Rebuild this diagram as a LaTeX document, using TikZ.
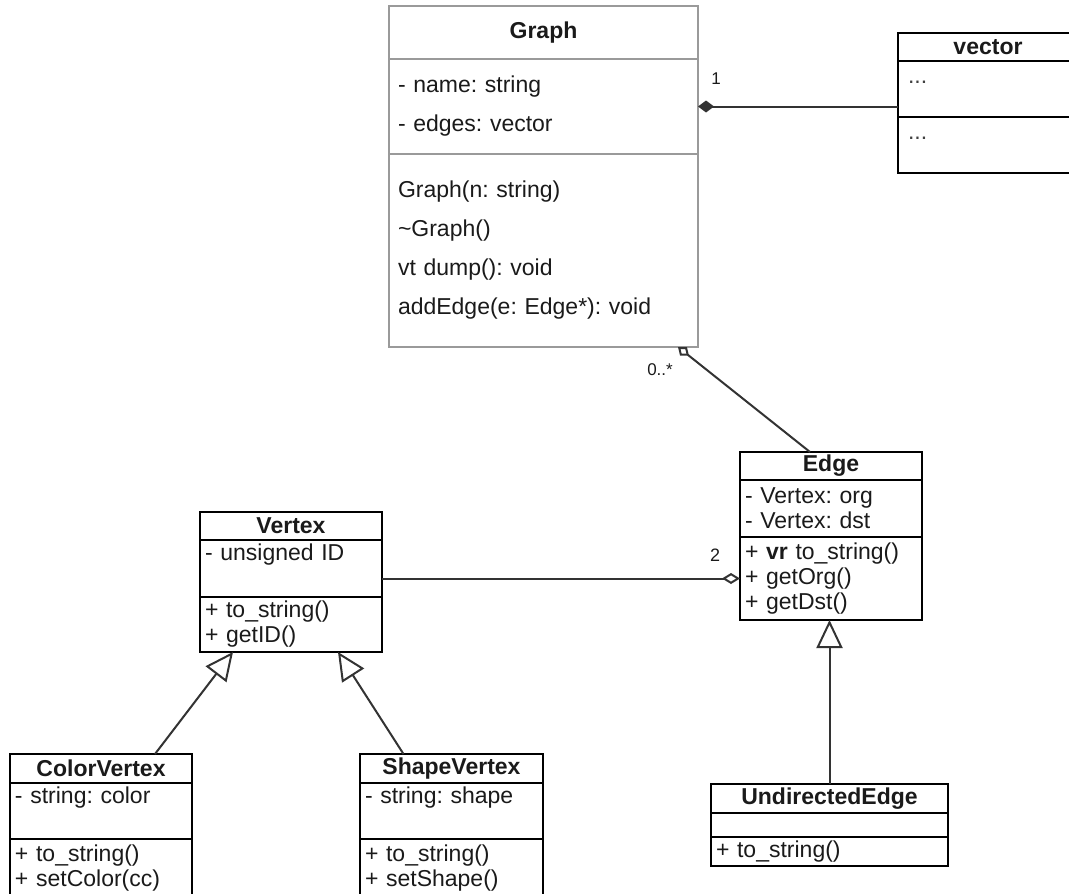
\documentclass[tikz,border=0pt]{standalone}
\usepackage{fontspec}
\setmainfont{Liberation Sans}
\usetikzlibrary{arrows.meta, positioning}
\frenchspacing
\definecolor{uml_gray}{HTML}{9A9A9A}
\definecolor{uml_line}{HTML}{333333}
\definecolor{uml_text}{HTML}{1A1A1A}
\tikzset{
    classbox/.style={rectangle, draw=black, line width=1.8pt, outer sep=0pt, inner ysep=0pt, inner xsep=5pt, text=uml_text, font=\fontsize{23}{25}\selectfont},
    classtitle/.style={classbox, align=center, font=\fontsize{23}{25}\selectfont\bfseries},
    classpart/.style={classbox, align=left},
    assoc/.style={draw=uml_line, line width=2pt},
    inherit/.style={assoc, -{Triangle[open, length=28pt, width=26pt]}},
    aggregation/.style={assoc, -{Diamond[open, length=18pt, width=11pt]}},
    composition/.style={assoc, {Diamond[length=16pt, width=12pt]}-},
    mult/.style={inner sep=0pt, text=uml_text, font=\fontsize{17}{17}\selectfont}
}

\begin{document}
\begin{tikzpicture}[x=1pt, y=-1pt]
    \useasboundingbox (0,0) rectangle (1069,894);

    % Graph
    \node (Graph_title) [classtitle, draw=uml_gray, line width=1.4pt, minimum width=309pt, minimum height=53pt, anchor=north west] at (389,6) {Graph};
    \node (Graph_attr) [classpart, draw=uml_gray, line width=1.4pt, inner xsep=9pt, text width=291pt, minimum height=95pt, font=\fontsize{23}{39}\selectfont, below=0pt of Graph_title] {- name: string\\- edges: vector};
    \node (Graph_ops) [classpart, draw=uml_gray, line width=1.4pt, inner xsep=9pt, text width=291pt, minimum height=193pt, font=\fontsize{23}{39}\selectfont, below=0pt of Graph_attr] {Graph(n: string)\\\textasciitilde Graph()\\vt dump(): void\\addEdge(e: Edge*): void};

    % vector
    \node (Vector_title) [classtitle, minimum width=180pt, minimum height=28pt, anchor=north west] at (898,33) {vector};
    \node (Vector_attr) [classpart, inner xsep=10pt, text width=160pt, minimum height=56pt, below=0pt of Vector_title] {\textcolor{darkgray}{...}\\[-20pt]\strut};
    \node (Vector_ops) [classpart, inner xsep=10pt, text width=160pt, minimum height=56pt, below=0pt of Vector_attr] {\textcolor{darkgray}{...}\\[-20pt]\strut};

    % Edge
    \node (Edge_title) [classtitle, minimum width=182pt, minimum height=28pt, anchor=north west] at (740,452) {Edge};
    \node (Edge_attr) [classpart, text width=172pt, minimum height=57pt, below=0pt of Edge_title] {- Vertex: org\\- Vertex: dst};
    \node (Edge_ops) [classpart, text width=172pt, minimum height=83pt, below=0pt of Edge_attr] {+ \textbf{vr} to\_string()\\+ getOrg()\\+ getDst()};

    % Vertex
    \node (Vertex_title) [classtitle, minimum width=182pt, minimum height=28pt, anchor=north west] at (200,512) {Vertex};
    \node (Vertex_attr) [classpart, text width=172pt, minimum height=57pt, below=0pt of Vertex_title] {- unsigned ID\\\strut};
    \node (Vertex_ops) [classpart, text width=172pt, minimum height=55pt, below=0pt of Vertex_attr] {+ to\_string()\\+ getID()};

    % ColorVertex
    \node (Color_title) [classtitle, minimum width=182pt, minimum height=29pt, anchor=north west] at (10,754) {ColorVertex};
    \node (Color_attr) [classpart, text width=172pt, minimum height=56pt, below=0pt of Color_title] {- string: color\\\strut};
    \node (Color_ops) [classpart, text width=172pt, minimum height=58pt, below=0pt of Color_attr] {+ to\_string()\\+ setColor(cc)};

    % ShapeVertex
    \node (Shape_title) [classtitle, minimum width=183pt, minimum height=29pt, anchor=north west] at (360,754) {ShapeVertex};
    \node (Shape_attr) [classpart, text width=173pt, minimum height=56pt, below=0pt of Shape_title] {- string: shape\\\strut};
    \node (Shape_ops) [classpart, text width=173pt, minimum height=58pt, below=0pt of Shape_attr] {+ to\_string()\\+ setShape()};

    % UndirectedEdge
    \node (Undirected_title) [classtitle, minimum width=237pt, minimum height=29pt, anchor=north west] at (711,784) {UndirectedEdge};
    \node (Undirected_attr) [classpart, text width=227pt, minimum height=24pt, below=0pt of Undirected_title] {};
    \node (Undirected_ops) [classpart, text width=227pt, minimum height=29pt, below=0pt of Undirected_attr] {+ to\_string()};

    % Associations
    \draw[composition] (Graph_attr.east) -- (Graph_attr.east -| Vector_attr.west);
    \node (Mult_one) [mult] at ([xshift=18pt, yshift=28pt]Graph_attr.east) {1};

    \draw[assoc, -{Diamond[open, length=14pt, width=11pt]}] ([xshift=-21pt]Edge_title.north) -- ([xshift=-20pt]Graph_ops.south east);
    \node (Mult_many) [mult, anchor=east] at ([xshift=-25pt, yshift=-23pt]Graph_ops.south east) {0..*};

    \draw[aggregation] (Edge_ops.west -| Vertex_attr.east) -- (Edge_ops.west);
    \node (Mult_two) [mult, font=\fontsize{18}{18}\selectfont] at ([xshift=-25pt, yshift=23pt]Edge_ops.west) {2};

    % Inheritance
    \draw[inherit] ([xshift=54pt]Color_title.north) -- ([xshift=-58pt]Vertex_ops.south);
    \draw[inherit] ([xshift=-48pt]Shape_title.north) -- ([xshift=47pt]Vertex_ops.south);
    \draw[inherit] (Undirected_title.north) -- (Undirected_title.north |- Edge_ops.south);

\end{tikzpicture}
\end{document}
